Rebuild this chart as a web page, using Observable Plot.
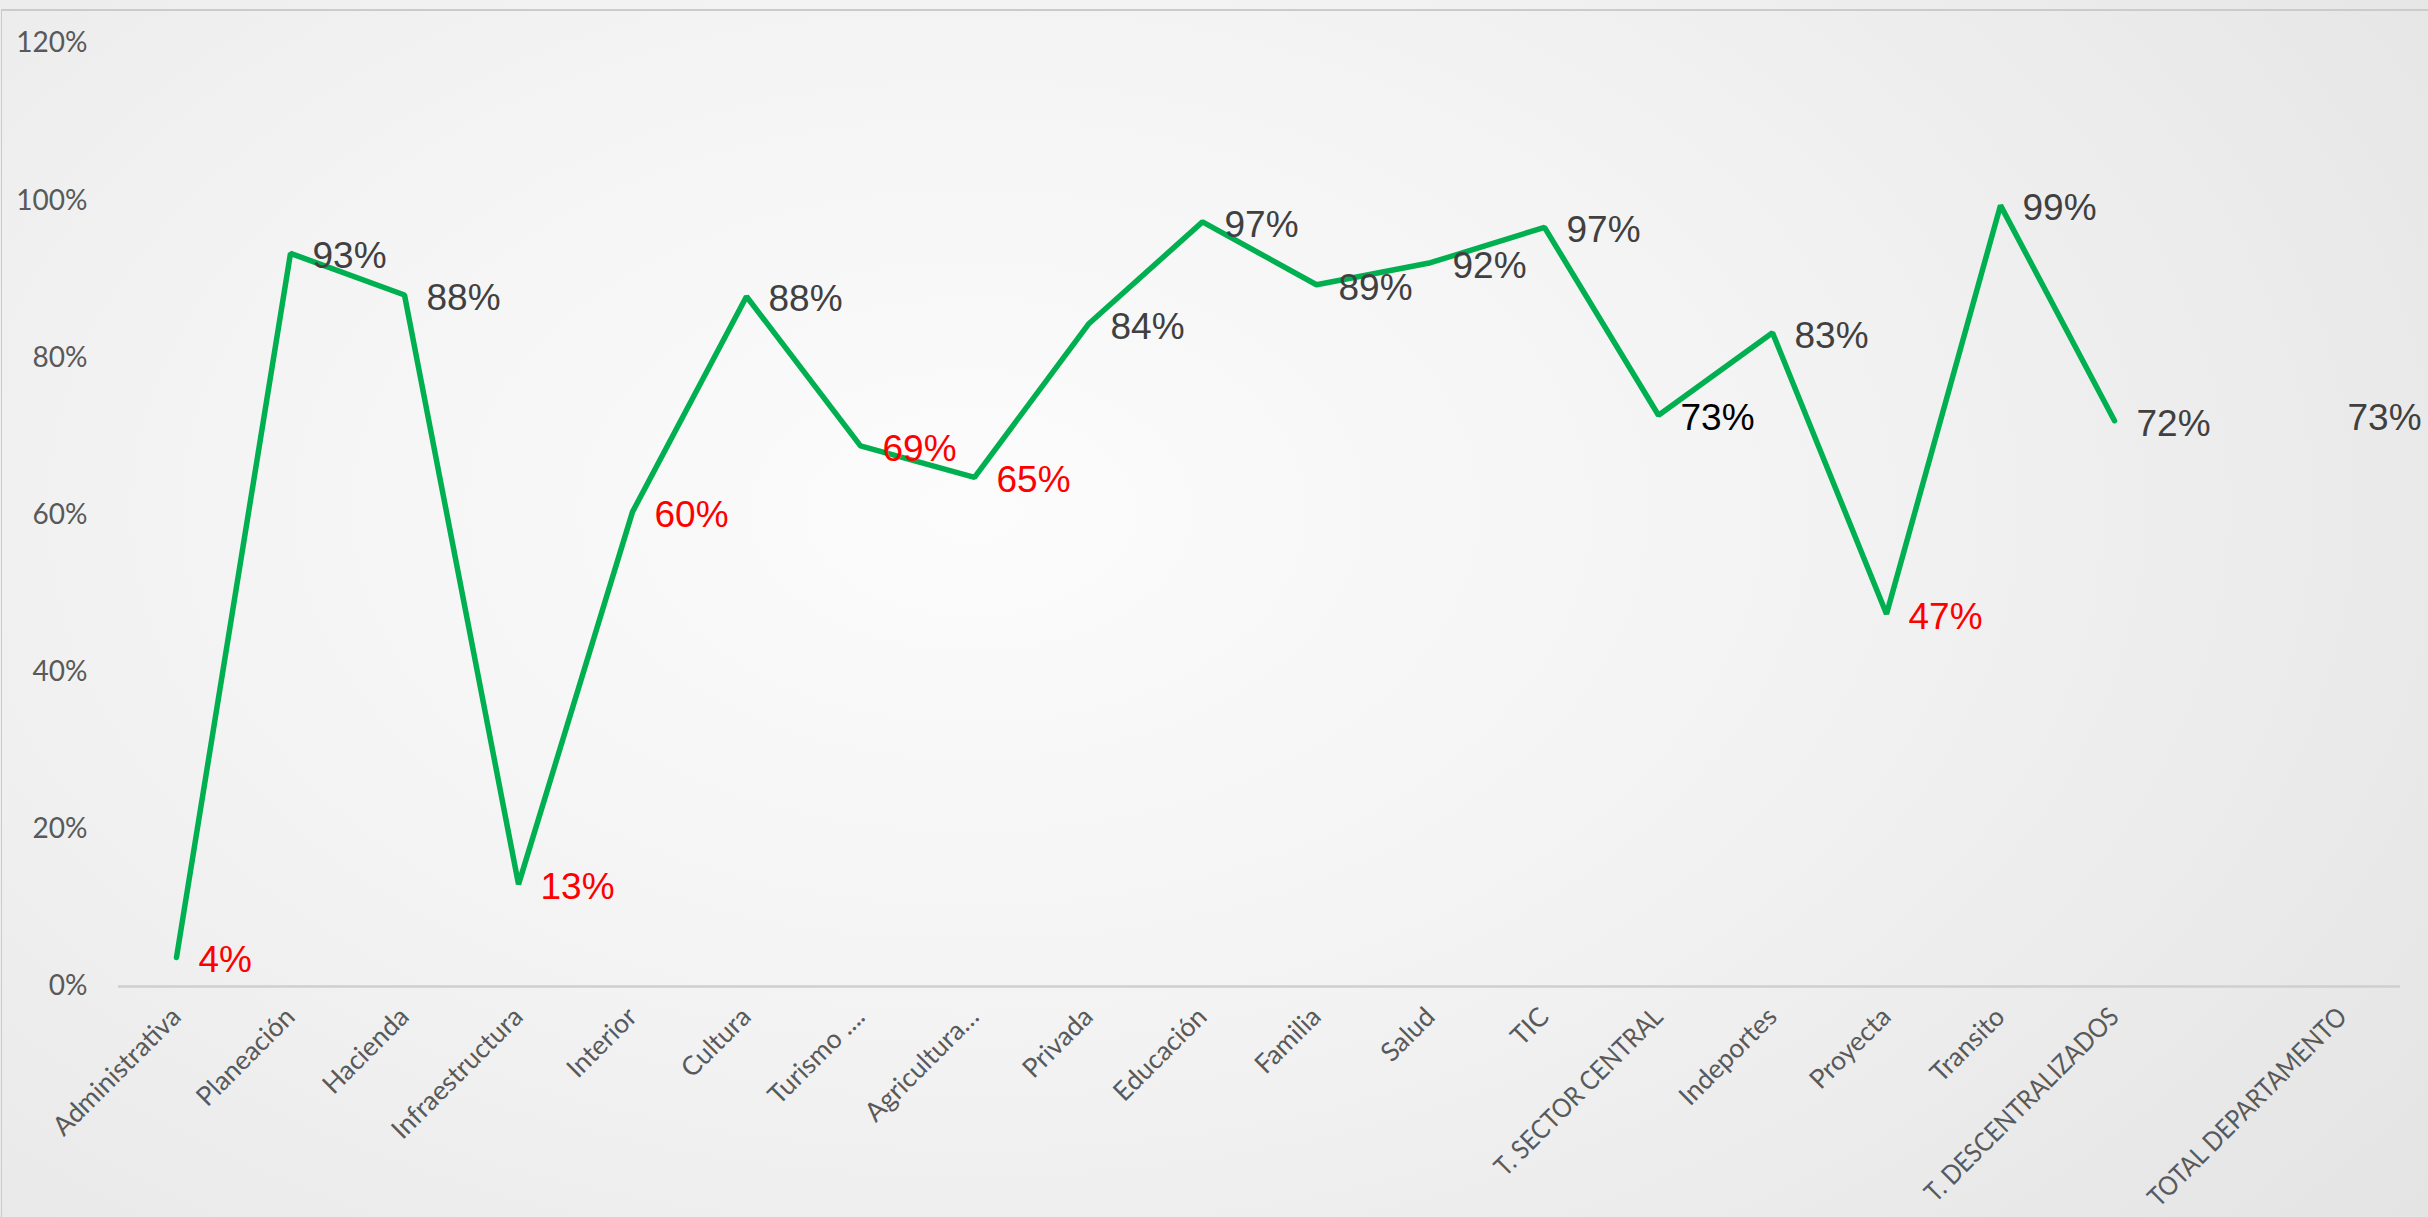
<!DOCTYPE html>
<html>
<head>
<meta charset="utf-8">
<script src="https://cdn.jsdelivr.net/npm/d3@7"></script>
<script src="https://cdn.jsdelivr.net/npm/@observablehq/plot@0.6"></script>
<style>
  html, body { margin: 0; padding: 0; }
  body {
    width: 2428px; height: 1217px; overflow: hidden; position: relative;
    background: radial-gradient(ellipse 75% 95% at 40% 42%, #fcfcfc 0%, #f3f3f3 45%, #e4e4e4 100%);
  }
  #frame { position: absolute; left: 1px; top: 9px; right: 0; bottom: 0;
    border-top: 2px solid #cbcbcb; border-left: 1px solid #cbcbcb; pointer-events: none; }
  #chart { position: absolute; left: 0; top: 0; }
  #chart svg { background: transparent; }
</style>
</head>
<body>
<div id="chart"></div>
<div id="frame"></div>
<script>
const categories = ["Administrativa", "Planeación", "Hacienda", "Infraestructura", "Interior", "Cultura",
  "Turismo ....", "Agricultura…", "Privada", "Educación", "Familia", "Salud", "TIC",
  "T. SECTOR CENTRAL", "Indeportes", "Proyecta", "Transito", "T. DESCENTRALIZADOS", "", "TOTAL DEPARTAMENTO"];
const values = [0.037, 0.933, 0.880, 0.130, 0.604, 0.878, 0.688, 0.648, 0.843, 0.973, 0.893, 0.921, 0.966,
  0.727, 0.832, 0.474, 0.994, 0.720, null, 0.727];
const yTicks = [0, 0.2, 0.4, 0.6, 0.8, 1.0, 1.2];

const rows = categories.map((c, i) => ({cat: c, v: values[i], i}));
const lineRows = rows.filter(d => d.v != null && d.cat !== "TOTAL DEPARTAMENTO");
const totalRows = rows.filter(d => d.cat === "TOTAL DEPARTAMENTO");
const labelColor = d => d.cat === "T. SECTOR CENTRAL" ? "#000000" : (d.v < 0.7 ? "#ff0000" : "#404040");
const pct = v => Math.round(v * 100) + "%";

const chart = Plot.plot({
  width: 2428,
  height: 1217,
  marginLeft: 118,
  marginRight: 28,
  marginTop: 43,
  marginBottom: 231,
  style: {background: "transparent", overflow: "visible"},
  x: {type: "band", domain: categories, padding: 0, label: null},
  y: {domain: [0, 1.2], label: null},
  marks: [
    Plot.axisY({ticks: yTicks, tickFormat: d => Math.round(d * 100) + "%", tickSize: 0, tickPadding: 31,
      fontSize: 28, fontFamily: "Lato", fill: "#595959", label: null}),
    Plot.axisX({tickSize: 0, tickRotate: -45, tickPadding: 26, dx: 0, fontSize: 26.5, fontFamily: "Lato",
      fill: "#595959", label: null}),
    Plot.ruleY([0], {stroke: "#cfcfcf", strokeWidth: 2.5}),
    Plot.line(lineRows, {x: "cat", y: "v", stroke: "#00b050", strokeWidth: 5.5, strokeLinejoin: "miter", strokeLinecap: "round"}),
    Plot.text(lineRows, {x: "cat", y: "v", text: d => pct(d.v), fill: labelColor, textAnchor: "start",
      dx: 22, dy: 3, fontSize: 37, fontFamily: "Liberation Sans"}),
    Plot.text(totalRows, {x: "cat", y: "v", text: d => pct(d.v), fill: labelColor, textAnchor: "start",
      dx: 5, dy: 3, fontSize: 37, fontFamily: "Liberation Sans"})
  ]
});
document.getElementById("chart").appendChild(chart);
// Calibri-like narrow capitals: condense the long all-caps category labels
d3.select(chart).selectAll('g[aria-label="x-axis tick label"] text').each(function() {
  const t = this.textContent;
  if (t.length > 5 && t === t.toUpperCase()) {
    const len = this.getComputedTextLength();
    this.setAttribute("textLength", (len * 0.9).toFixed(1));
    this.setAttribute("lengthAdjust", "spacingAndGlyphs");
  }
});
</script>
</body>
</html>
